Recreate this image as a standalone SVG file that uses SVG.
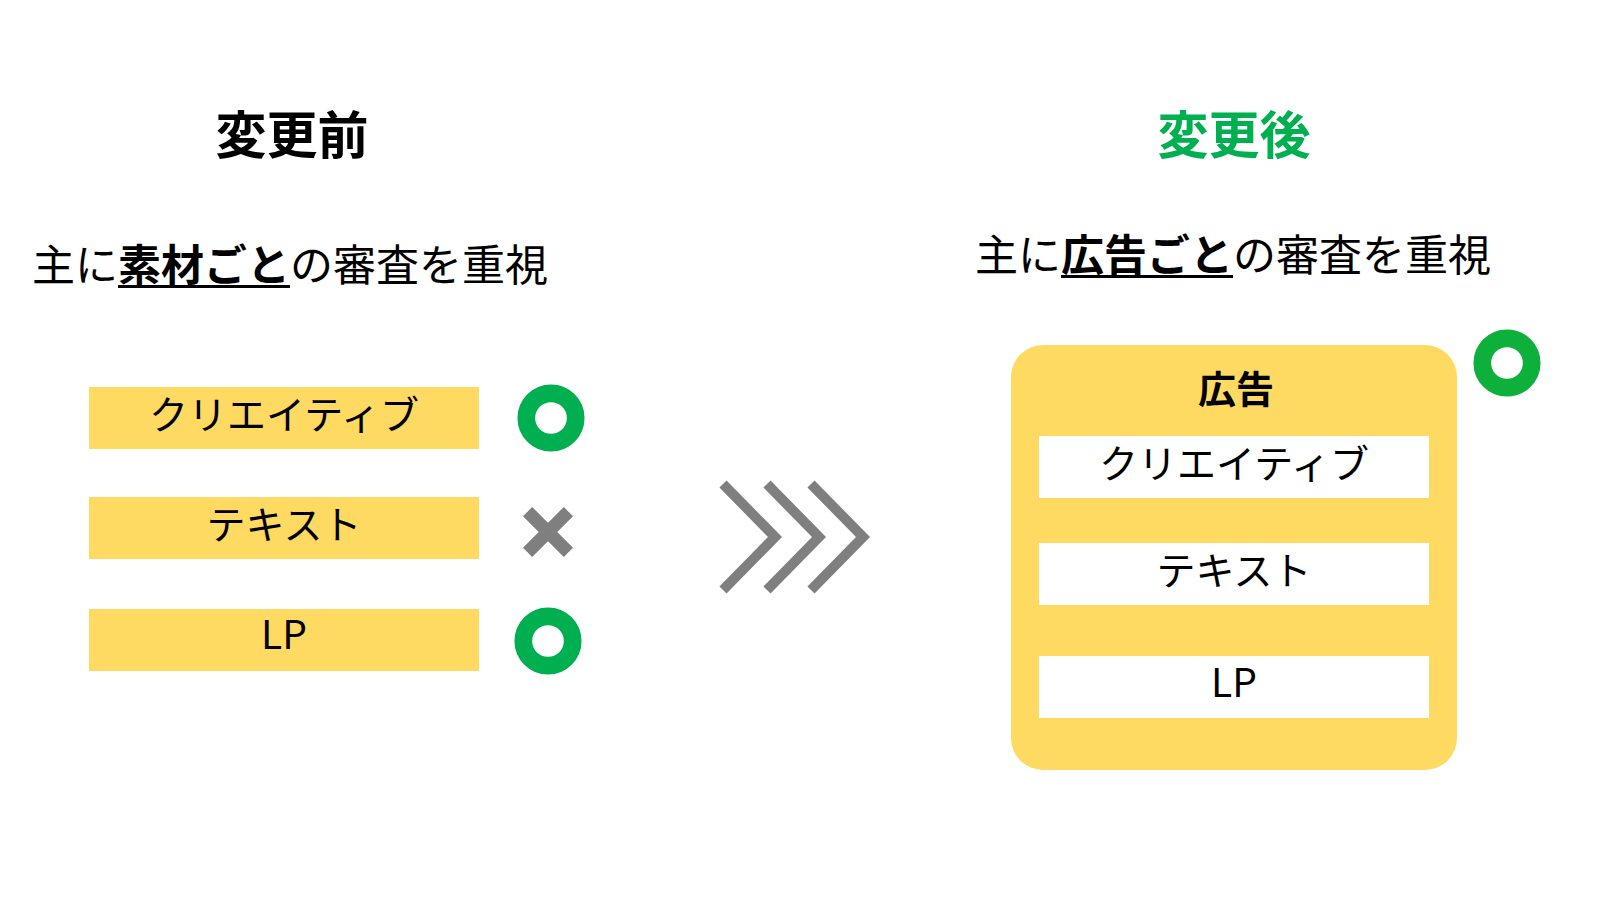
<svg xmlns="http://www.w3.org/2000/svg" width="1600" height="915" viewBox="0 0 1600 915">
<style>
text{font-family:"Noto Sans CJK JP","Noto Sans",sans-serif;fill:#000}
.title{font-size:51px;font-weight:700;text-anchor:middle}
.sub{font-size:43px}
.b{font-weight:700}
.lbl{font-size:39px;text-anchor:middle}
.ybox{fill:#FFDA63}
.wbox{fill:#FFFFFF}
.ok{fill:none;stroke:#00B050;stroke-width:17.7}
.ng{stroke:#7F7F7F;stroke-width:13;stroke-linecap:butt}
.chev{fill:none;stroke:#7F7F7F;stroke-width:10;stroke-linejoin:miter;stroke-linecap:butt}
</style>
<rect width="1600" height="915" fill="#FFFFFF"/>

<g id="before-title"><text class="title" x="292" y="154">変更前</text></g>
<g id="after-title"><text class="title" x="1234" y="154" style="fill:#00B050">変更後</text></g>

<g id="before-sub">
<text class="sub" x="32" y="281">主に<tspan class="b">素材ごと</tspan>の審査を重視</text>
<rect x="118" y="285" width="172" height="3" fill="#000"/>
</g>
<g id="after-sub">
<text class="sub" x="975" y="271">主に<tspan class="b">広告ごと</tspan>の審査を重視</text>
<rect x="1061" y="275" width="172" height="3" fill="#000"/>
</g>

<g id="before-creative">
<rect class="ybox" x="89" y="387" width="390" height="62"/>
<text class="lbl" x="284" y="429">クリエイティブ</text>
</g>
<g id="before-text">
<rect class="ybox" x="89" y="497" width="390" height="62"/>
<text class="lbl" x="284" y="539">テキスト</text>
</g>
<g id="before-lp">
<rect class="ybox" x="89" y="609" width="390" height="62"/>
<text class="lbl" x="284" y="649">LP</text>
</g>

<g id="mark-ok-1"><circle class="ok" cx="551" cy="418" r="24.7"/></g>
<g id="mark-ng"><line class="ng" x1="527.6" y1="511.6" x2="568.4" y2="552.4"/><line class="ng" x1="568.4" y1="511.6" x2="527.6" y2="552.4"/></g>
<g id="mark-ok-2"><circle class="ok" cx="548" cy="641" r="24.7"/></g>

<g id="connectors">
<polyline class="chev" points="723,484 775,537 723,590"/>
<polyline class="chev" points="767,484 819,537 767,590"/>
<polyline class="chev" points="811,484 863,537 811,590"/>
</g>

<g id="ad">
<rect class="ybox" x="1011" y="345" width="446" height="425" rx="32" ry="32"/>
<text x="1236" y="403" style="font-size:38px;font-weight:700;text-anchor:middle">広告</text>
</g>
<g id="after-creative">
<rect class="wbox" x="1039" y="436" width="390" height="62"/>
<text class="lbl" x="1234" y="478">クリエイティブ</text>
</g>
<g id="after-text">
<rect class="wbox" x="1039" y="543" width="390" height="62"/>
<text class="lbl" x="1234" y="585">テキスト</text>
</g>
<g id="after-lp">
<rect class="wbox" x="1039" y="656" width="390" height="62"/>
<text class="lbl" x="1234" y="697">LP</text>
</g>
<g id="mark-ok-3"><circle class="ok" cx="1507" cy="363" r="24.7" style="stroke:#0DB03A"/></g>
</svg>
